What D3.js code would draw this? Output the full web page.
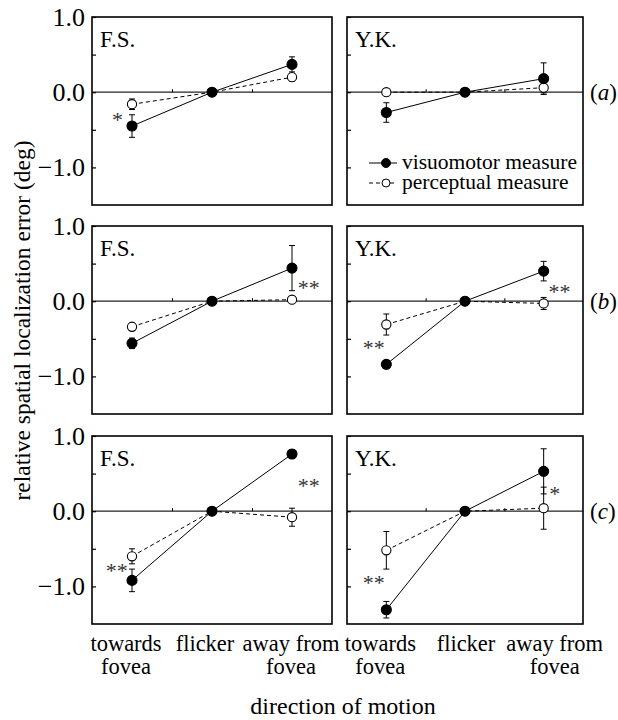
<!DOCTYPE html>
<html>
<head>
<meta charset="utf-8">
<script src="https://cdn.jsdelivr.net/npm/d3@7"></script>
<style>
  body { margin: 0; background: #fff; }
  svg { display: block; font-family: "Liberation Serif", "Times New Roman", serif; }
</style>
</head>
<body>
<div id="chart"></div>
<script>
// categorieen en panelen
const categories = [["towards", "fovea"], ["flicker"], ["away from", "fovea"]];
const subjects = ["F.S.", "Y.K."];
const rowLetters = ["a", "b", "c"];
const yTickLabels = [1.0, 0.0, -1.0];
const yTickMinor = [0.5, -0.5];
const xTickMinor = [0.5, 1.5];

// gemiddelden per rij [a, b, c] -> per proefpersoon [F.S., Y.K.] -> per categorie
const visuoMean = [
    [[-0.45, 0, 0.37], [-0.27, 0, 0.18]],
    [[-0.56, 0, 0.44], [-0.84, 0, 0.40]],
    [[-0.92, 0, 0.76], [-1.31, 0, 0.53]]
];
const visuoErr = [
    [[0.15, 0, 0.10], [0.13, 0, 0.21]],
    [[0.07, 0, 0.30], [0.05, 0, 0.13]],
    [[0.15, 0, 0.06], [0.11, 0, 0.30]]
];
const percMean = [
    [[-0.16, 0, 0.20], [0.00, 0, 0.06]],
    [[-0.34, 0, 0.02], [-0.31, 0, -0.03]],
    [[-0.60, 0, -0.08], [-0.52, 0, 0.04]]
];
const percErr = [
    [[0.07, 0, 0.05], [0.00, 0, 0.07]],
    [[0.05, 0, 0.03], [0.14, 0, 0.08]],
    [[0.10, 0, 0.12], [0.25, 0, 0.28]]
];

// significantie-sterretjes: [rij, proefpersoon, categorie-positie, waarde, tekst]
const stars = [
    [0, 0, -0.18, -0.30, "*"],
    [1, 0, 2.21, 0.24, "**"],
    [1, 1, -0.16, -0.56, "**"],
    [1, 1, 2.20, 0.19, "**"],
    [2, 0, -0.19, -0.73, "**"],
    [2, 0, 2.21, 0.40, "**"],
    [2, 1, -0.16, -0.89, "**"],
    [2, 1, 2.14, 0.29, "*"]
];

const width = 618, height = 720;
const colLeft = [92, 347], colRight = [332, 583];
const rowTop = [17, 226, 436];
const panelH = 188;
// kleine verschuiving van de categorie-labels (zoals in het origineel)
const labelShift = [[-6, -7, -1], [-6, 1, 11]];

const svg = d3.select("#chart").append("svg")
    .attr("width", width)
    .attr("height", height);

function panel(r, s) {
    const x = d3.scaleLinear().domain([-0.5, 2.5]).range([colLeft[s], colRight[s]]);
    const y = d3.scaleLinear().domain([-1.5, 1.0]).range([rowTop[r] + panelH, rowTop[r]]);
    const g = svg.append("g");

    // nul-lijn
    g.append("line")
        .attr("x1", x(-0.5)).attr("x2", x(2.5))
        .attr("y1", y(0)).attr("y2", y(0))
        .attr("stroke", "#222").attr("stroke-width", 1.2);

    // y-as ticks (naar binnen)
    const yAxis = d3.axisLeft(y)
        .tickValues(yTickLabels.concat(yTickMinor))
        .tickSizeInner(-4).tickSizeOuter(0)
        .tickFormat(d => (s === 0 && yTickLabels.includes(d)) ? d3.format(".1f")(d) : "");
    const ya = g.append("g").attr("transform", `translate(${x(-0.5)},0)`).call(yAxis);
    ya.select(".domain").remove();
    ya.selectAll("line").attr("stroke", "#000").attr("stroke-width", 1.2);
    ya.selectAll("text")
        .attr("x", -7)
        .attr("fill", "#000")
        .style("font-size", "26px")
        .style("font-family", "Liberation Serif, serif");

    // x ticks op de nul-lijn
    const xAxis = d3.axisBottom(x).tickValues(xTickMinor).tickSizeInner(-3).tickSizeOuter(0).tickFormat("");
    const xa = g.append("g").attr("transform", `translate(0,${y(0)})`).call(xAxis);
    xa.select(".domain").remove();
    xa.selectAll("line").attr("stroke", "#000");

    // kader
    g.append("rect")
        .attr("x", x(-0.5)).attr("y", y(1.0))
        .attr("width", x(2.5) - x(-0.5)).attr("height", y(-1.5) - y(1.0))
        .attr("fill", "none").attr("stroke", "#000").attr("stroke-width", 1.6);

    const line = d3.line().x((d, i) => x(i)).y(d => y(d));

    const series = [
        { mean: percMean[r][s], err: percErr[r][s], dash: "4,3", fill: "#fff" },
        { mean: visuoMean[r][s], err: visuoErr[r][s], dash: null, fill: "#000" }
    ];

    series.forEach(sr => {
        g.append("path")
            .datum(sr.mean)
            .attr("d", line)
            .attr("fill", "none")
            .attr("stroke", "#000")
            .attr("stroke-width", 1)
            .attr("stroke-dasharray", sr.dash);
    });

    series.forEach(sr => {
        const pts = sr.mean.map((m, i) => ({ i, m, e: sr.err[i] })).filter(d => d.e > 0);
        const eb = g.selectAll(null).data(pts).enter().append("g").attr("stroke", "#000").attr("stroke-width", 1);
        eb.append("line")
            .attr("x1", d => x(d.i)).attr("x2", d => x(d.i))
            .attr("y1", d => y(d.m - d.e)).attr("y2", d => y(d.m + d.e));
        eb.append("line")
            .attr("x1", d => x(d.i) - 3).attr("x2", d => x(d.i) + 3)
            .attr("y1", d => y(d.m + d.e)).attr("y2", d => y(d.m + d.e));
        eb.append("line")
            .attr("x1", d => x(d.i) - 3).attr("x2", d => x(d.i) + 3)
            .attr("y1", d => y(d.m - d.e)).attr("y2", d => y(d.m - d.e));
    });

    series.forEach(sr => {
        g.selectAll(null).data(sr.mean).enter().append("circle")
            .attr("cx", (d, i) => x(i))
            .attr("cy", d => y(d))
            .attr("r", sr.fill === "#000" ? 5 : 4.6)
            .attr("fill", sr.fill)
            .attr("stroke", "#000")
            .attr("stroke-width", 1.1);
    });

    // naam proefpersoon
    g.append("text")
        .attr("x", x(-0.5) + 8)
        .attr("y", y(1.0) + 30)
        .style("font-size", "23px")
        .text(subjects[s]);

    // sterretjes
    stars.filter(st => st[0] === r && st[1] === s).forEach(st => {
        g.append("text")
            .attr("x", x(st[2]))
            .attr("y", y(st[3]) + 12)
            .attr("text-anchor", "middle")
            .attr("fill", "#333")
            .style("font-size", "22px")
            .text(st[4]);
    });

    // categorie-labels onder de onderste rij
    if (r === rowTop.length - 1) {
        categories.forEach((lines, i) => {
            const t = g.append("text")
                .attr("text-anchor", "middle")
                .style("font-size", "22.5px");
            lines.forEach((ln, k) => {
                t.append("tspan")
                    .attr("x", x(i) + labelShift[s][i])
                    .attr("y", y(-1.5) + 27 + k * 23)
                    .text(ln);
            });
        });
    }

    // legenda in Y.K. (a)
    if (r === 0 && s === 1) {
        const lg = g.append("g").attr("transform", `translate(${x(-0.5)},${y(1.0)})`);
        [{ dash: null, fill: "#000", label: "visuomotor measure", yy: 146 },
         { dash: "4,3", fill: "#fff", label: "perceptual measure", yy: 166 }].forEach(item => {
            lg.append("line")
                .attr("x1", 22).attr("x2", 50)
                .attr("y1", item.yy).attr("y2", item.yy)
                .attr("stroke", "#000").attr("stroke-width", 1)
                .attr("stroke-dasharray", item.dash);
            lg.append("circle")
                .attr("cx", 39).attr("cy", item.yy)
                .attr("r", item.fill === "#000" ? 4.5 : 4)
                .attr("fill", item.fill).attr("stroke", "#000");
            lg.append("text")
                .attr("x", 55).attr("y", item.yy + 6)
                .style("font-size", "21.5px")
                .text(item.label);
        });
    }

    // rij-letter (a), (b), (c)
    if (s === 1) {
        const t = g.append("text")
            .attr("x", colRight[1] + 7)
            .attr("y", y(0) + 8)
            .style("font-size", "23px");
        t.append("tspan").text("(");
        t.append("tspan").style("font-style", "italic").text(rowLetters[r]);
        t.append("tspan").text(")");
    }
}

rowTop.forEach((_, r) => subjects.forEach((_, s) => panel(r, s)));

// as-titels
svg.append("text")
    .attr("transform", `translate(30,${(rowTop[0] + rowTop[2] + panelH) / 2}) rotate(-90)`)
    .attr("text-anchor", "middle")
    .style("font-size", "23.5px")
    .text("relative spatial localization error (deg)");

svg.append("text")
    .attr("x", 343)
    .attr("y", 714)
    .attr("text-anchor", "middle")
    .style("font-size", "24px")
    .text("direction of motion");
</script>
</body>
</html>
